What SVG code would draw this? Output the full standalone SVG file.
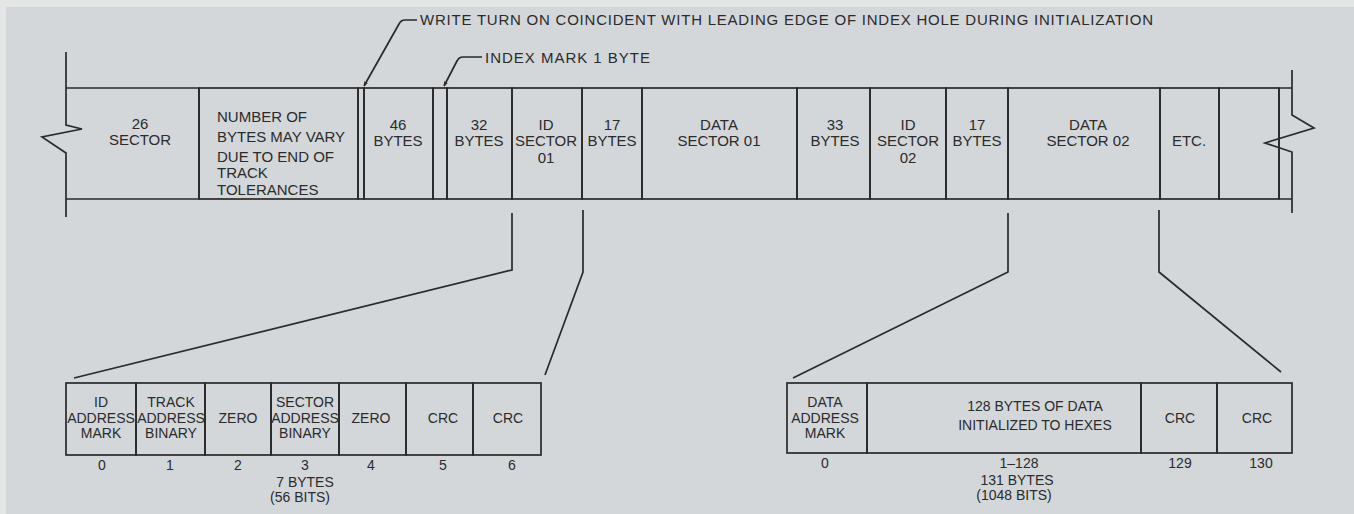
<svg xmlns="http://www.w3.org/2000/svg" width="1354" height="514" viewBox="0 0 1354 514">
<style>
.ln{fill:none;stroke:#2a2a2a;stroke-width:1.7;stroke-linejoin:miter}
.t{font-family:"Liberation Sans",Arial,sans-serif;font-size:15px;fill:#2b2b2b;text-anchor:middle}
.s{font-family:"Liberation Sans",Arial,sans-serif;font-size:14px;fill:#2b2b2b;text-anchor:middle}
.l{text-anchor:start}
</style>
<defs>
<marker id="tip" viewBox="0 0 10 10" refX="9" refY="5" markerWidth="5" markerHeight="5" orient="auto" markerUnits="userSpaceOnUse">
<path d="M0,1 L10,5 L0,9 Z" fill="#2a2a2a"/>
</marker>
</defs>
<rect x="0" y="0" width="1354" height="514" fill="#e4e5e5"/>
<rect x="6" y="7" width="1348" height="507" fill="#d3d7da"/>

<g id="annotations">
<path class="ln" d="M417,20 H405 Q401,20 399,24 L364,86" marker-end="url(#tip)"/>
<text class="t l" x="420" y="24.5" textLength="733" lengthAdjust="spacing">WRITE TURN ON COINCIDENT WITH LEADING EDGE OF INDEX HOLE DURING INITIALIZATION</text>
<path class="ln" d="M482,57 H463 Q459,57 457,61 L444,86" marker-end="url(#tip)"/>
<text class="t l" x="485" y="62.5" textLength="165" lengthAdjust="spacing">INDEX MARK 1 BYTE</text>
</g>

<g id="track">
<path class="ln" d="M66,52 V125 L82,129 L42,137 L66,153 V217"/>
<path class="ln" d="M1292,70 V115 L1314,128 L1265,143 L1292,152 V213"/>
<g id="cell-26-sector"><path class="ln" d="M66,88 H199 V199 H66"/><text class="t" x="140" y="129">26</text><text class="t" x="140" y="145">SECTOR</text></g>
<g id="cell-variable"><rect class="ln" x="199" y="88" width="159" height="111"/>
<text class="t l" x="217" y="122">NUMBER  OF</text><text class="t l" x="217" y="142">BYTES MAY VARY</text><text class="t l" x="217" y="162">DUE  TO END  OF</text><text class="t l" x="217" y="178">TRACK</text><text class="t l" x="217" y="195">TOLERANCES</text></g>
<g id="cell-write-gap"><rect class="ln" x="358" y="88" width="6" height="111"/></g>
<g id="cell-46-bytes"><rect class="ln" x="364" y="88" width="69" height="111"/><text class="t" x="398" y="129.5">46</text><text class="t" x="398" y="145.5">BYTES</text></g>
<g id="cell-index-mark"><rect class="ln" x="433" y="88" width="14" height="111"/></g>
<g id="cell-32-bytes"><rect class="ln" x="447" y="88" width="65" height="111"/><text class="t" x="479" y="129.5">32</text><text class="t" x="479" y="145.5">BYTES</text></g>
<g id="cell-id-sector-01"><rect class="ln" x="512" y="88" width="70" height="111"/><text class="t" x="546" y="129.5">ID</text><text class="t" x="546" y="145.5">SECTOR</text><text class="t" x="546" y="162.5">01</text></g>
<g id="cell-17-bytes-a"><rect class="ln" x="582" y="88" width="60" height="111"/><text class="t" x="612" y="129.5">17</text><text class="t" x="612" y="145.5">BYTES</text></g>
<g id="cell-data-sector-01"><rect class="ln" x="642" y="88" width="155" height="111"/><text class="t" x="719" y="129.5">DATA</text><text class="t" x="719" y="145.5">SECTOR 01</text></g>
<g id="cell-33-bytes"><rect class="ln" x="797" y="88" width="73" height="111"/><text class="t" x="835" y="129.5">33</text><text class="t" x="835" y="145.5">BYTES</text></g>
<g id="cell-id-sector-02"><rect class="ln" x="870" y="88" width="76" height="111"/><text class="t" x="908" y="129.5">ID</text><text class="t" x="908" y="145.5">SECTOR</text><text class="t" x="908" y="162.5">02</text></g>
<g id="cell-17-bytes-b"><rect class="ln" x="946" y="88" width="62" height="111"/><text class="t" x="977" y="129.5">17</text><text class="t" x="977" y="145.5">BYTES</text></g>
<g id="cell-data-sector-02"><rect class="ln" x="1008" y="88" width="152" height="111"/><text class="t" x="1088" y="129.5">DATA</text><text class="t" x="1088" y="145.5">SECTOR 02</text></g>
<g id="cell-etc"><rect class="ln" x="1160" y="88" width="59" height="111"/><text class="t" x="1189" y="145.5">ETC.</text></g>
<g id="cell-blank"><rect class="ln" x="1219" y="88" width="60" height="111"/></g>
<g id="cell-end"><path class="ln" d="M1279,88 H1292 M1279,199 H1292 M1279,88 V199"/></g>
</g>

<g id="connectors">
<path class="ln" d="M512,213 V270 L74,378"/>
<path class="ln" d="M583,210 V272 L545,375"/>
<path class="ln" d="M1008,213 V272 L793,378"/>
<path class="ln" d="M1159,210 V272 L1281,372"/>
</g>

<g id="id-field">
<g id="id-address-mark"><rect class="ln" x="66" y="383" width="70" height="72"/><text class="s" x="101" y="407">ID</text><text class="s" x="101" y="423">ADDRESS</text><text class="s" x="101" y="438">MARK</text></g>
<g id="track-address"><rect class="ln" x="136" y="383" width="69" height="72"/><text class="s" x="171" y="407">TRACK</text><text class="s" x="171" y="423">ADDRESS</text><text class="s" x="171" y="438">BINARY</text></g>
<g id="zero-a"><rect class="ln" x="205" y="383" width="66" height="72"/><text class="s" x="238" y="423">ZERO</text></g>
<g id="sector-address"><rect class="ln" x="271" y="383" width="68" height="72"/><text class="s" x="305" y="407">SECTOR</text><text class="s" x="305" y="423">ADDRESS</text><text class="s" x="305" y="438">BINARY</text></g>
<g id="zero-b"><rect class="ln" x="339" y="383" width="67" height="72"/><text class="s" x="371" y="423">ZERO</text></g>
<g id="crc-a"><rect class="ln" x="406" y="383" width="67" height="72"/><text class="s" x="443" y="423">CRC</text></g>
<g id="crc-b"><rect class="ln" x="473" y="383" width="68" height="72"/><text class="s" x="508" y="423">CRC</text></g>
<g id="id-field-scale">
<text class="s" x="102" y="470">0</text><text class="s" x="170" y="470">1</text><text class="s" x="238" y="470">2</text><text class="s" x="305" y="470">3</text><text class="s" x="371" y="470">4</text><text class="s" x="443" y="470">5</text><text class="s" x="512" y="470">6</text>
<text class="s" x="305" y="487">7 BYTES</text><text class="s" x="300" y="502">(56 BITS)</text>
</g>
</g>

<g id="data-field">
<g id="data-address-mark"><rect class="ln" x="787" y="383" width="80" height="70"/><text class="s" x="825" y="407">DATA</text><text class="s" x="825" y="423">ADDRESS</text><text class="s" x="825" y="438">MARK</text></g>
<g id="data-bytes"><rect class="ln" x="867" y="383" width="274" height="70"/><text class="s" x="1035" y="411">128 BYTES OF DATA</text><text class="s" x="1035" y="430">INITIALIZED TO HEXES</text></g>
<g id="data-crc-a"><rect class="ln" x="1141" y="383" width="76" height="70"/><text class="s" x="1180" y="423">CRC</text></g>
<g id="data-crc-b"><rect class="ln" x="1217" y="383" width="75" height="70"/><text class="s" x="1257" y="423">CRC</text></g>
<g id="data-field-scale">
<text class="s" x="825" y="468">0</text><text class="s" x="1019" y="468">1–128</text><text class="s" x="1180" y="468">129</text><text class="s" x="1261" y="468">130</text>
<text class="s" x="1017" y="485">131 BYTES</text><text class="s" x="1014" y="500">(1048 BITS)</text>
</g>
</g>
</svg>
